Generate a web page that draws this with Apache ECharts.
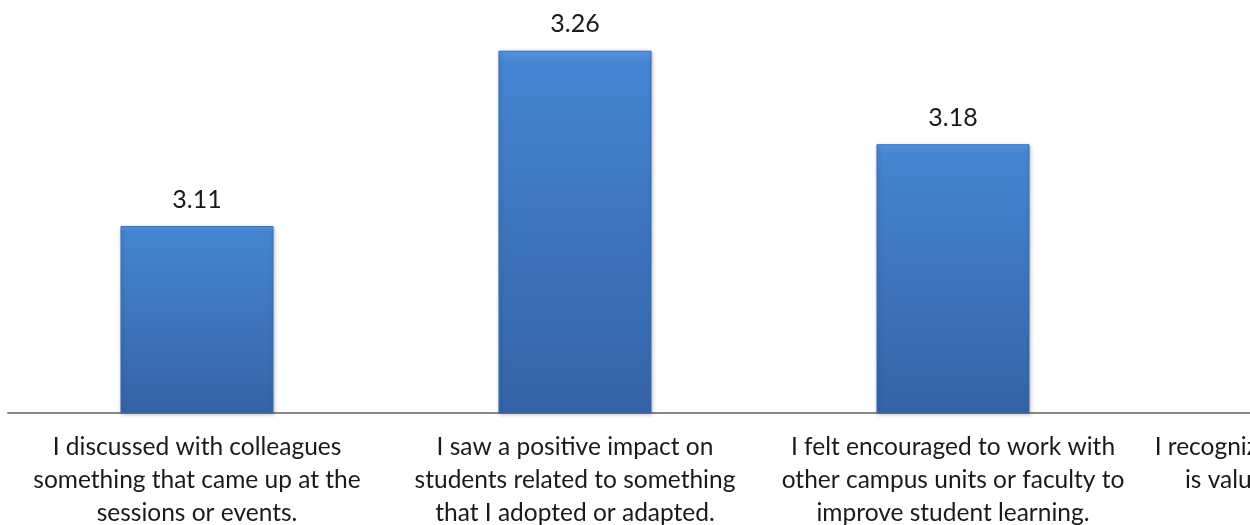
<!DOCTYPE html>
<html>
<head>
<meta charset="utf-8">
<script src="https://cdn.jsdelivr.net/npm/echarts@6/dist/echarts.min.js"></script>
<style>html,body{margin:0;padding:0;background:#fff;}#c{width:1250px;height:525px;}</style>
</head>
<body>
<div id="c"></div>
<script>
const categories = [
  "I discussed with colleagues\nsomething that came up at the\nsessions or events.",
  "I saw a positive impact on\nstudents related to something\nthat I adopted or adapted.",
  "I felt encouraged to work with\nother campus units or faculty to\nimprove student learning.",
  "I recognize that teaching support\nis valuable for my students."
];
const values = [3.11, 3.26, 3.18, null];
const valueLabels = ["3.11", "3.26", "3.18", ""];

const chart = echarts.init(document.getElementById('c'), null, {renderer: 'canvas'});
const FONT = 'Lato';
chart.setOption({
  animation: false,
  grid: {left: 8, top: 4, width: 1512, height: 409, containLabel: false, outerBoundsMode: 'none'},
  xAxis: {
    type: 'category',
    data: categories,
    axisLine: {lineStyle: {color: '#888888', width: 2}},
    axisTick: {show: false},
    axisLabel: {
      interval: 0, margin: 18, color: '#1a1a1a', fontFamily: FONT, fontSize: 24.5, lineHeight: 33, align: 'center',
      hideOverlap: false
    }
  },
  yAxis: {
    type: 'value', min: 2.95, max: 3.3, interval: 0.05,
    show: false, splitLine: {show: false}
  },
  series: [{
    type: 'bar',
    data: values,
    barWidth: '40.5%',
    itemStyle: {
      color: new echarts.graphic.LinearGradient(0, 0, 0, 1, [
        {offset: 0, color: '#5c9ae4'},
        {offset: 0.03, color: '#4585d2'},
        {offset: 1, color: '#3563a6'}
      ]),
      borderColor: '#3a6db2',
      borderWidth: 1,
      shadowColor: 'rgba(0,0,0,0.25)',
      shadowBlur: 4,
      shadowOffsetX: 1,
      shadowOffsetY: 1
    },
    label: {
      show: true, position: 'top', distance: 14,
      color: '#1a1a1a', fontFamily: FONT, fontSize: 25,
      formatter: p => valueLabels[p.dataIndex]
    }
  }]
});
</script>
</body>
</html>
